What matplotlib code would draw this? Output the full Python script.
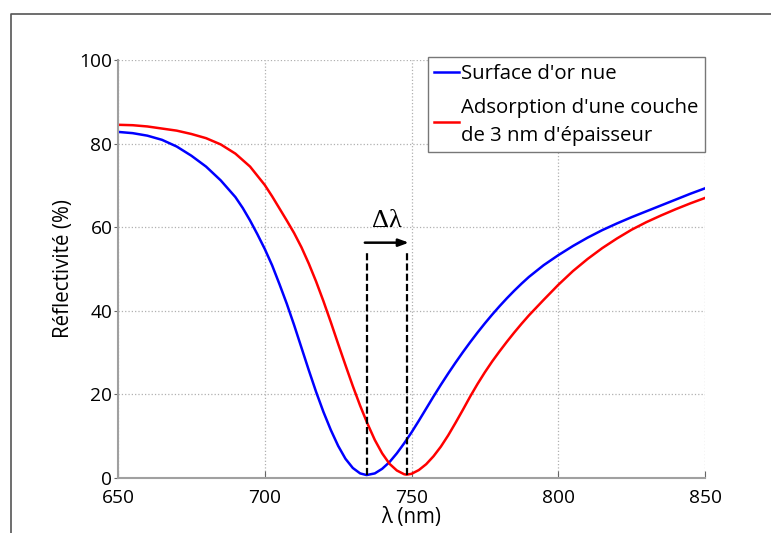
import numpy as np
import matplotlib
matplotlib.use("Agg")
import matplotlib.pyplot as plt
from matplotlib.lines import Line2D

# data (wavelength in nm, reflectivity in %)
wl_gold = [650, 655, 660, 665, 670, 675, 680, 685, 690, 692.5, 695, 697.5, 700,
           702.5, 705, 707.5, 710, 712.5, 715, 717.5, 720, 722.5, 725, 727.5, 730,
           732.5, 734.7, 737.5, 740, 742.5, 745, 747.5, 750, 752.5, 755, 757.5, 760,
           762.5, 765, 767.5, 770, 772.5, 775, 777.5, 780, 782.5, 785, 787.5, 790,
           795, 800, 805, 810, 815, 820, 825, 830, 835, 840, 845, 850]
r_gold = [82.8, 82.5, 81.9, 80.9, 79.3, 77.1, 74.5, 71.2, 67.2, 64.6, 61.6, 58.3, 54.8,
          50.9, 46.4, 41.7, 36.6, 31.2, 25.8, 20.6, 15.8, 11.5, 7.7, 4.6, 2.4,
          1.1, 0.7, 1.1, 2.2, 3.8, 5.9, 8.3, 10.9, 13.7, 16.6, 19.5, 22.3,
          25.0, 27.6, 30.1, 32.5, 34.8, 37.0, 39.1, 41.1, 43.0, 44.8, 46.5, 48.1,
          50.9, 53.3, 55.5, 57.5, 59.3, 60.9, 62.4, 63.8, 65.2, 66.6, 68.0, 69.3]

wl_layer = [650, 655, 660, 665, 670, 675, 680, 685, 690, 695, 700, 702.5, 705, 707.5,
            710, 712.5, 715, 717.5, 720, 722.5, 725, 727.5, 730, 732.5, 735, 737.5,
            740, 742.5, 745, 747.5, 748.3, 750, 752.5, 755, 757.5, 760, 762.5, 765,
            767.5, 770, 772.5, 775, 777.5, 780, 782.5, 785, 787.5, 790, 795, 800,
            805, 810, 815, 820, 825, 830, 835, 840, 845, 850]
r_layer = [84.5, 84.4, 84.1, 83.6, 83.1, 82.3, 81.3, 79.8, 77.6, 74.5, 70.1, 67.4, 64.5, 61.6,
           58.6, 55.2, 51.3, 47.0, 42.3, 37.3, 32.1, 27.0, 22.0, 17.3, 13.0, 9.1,
           5.9, 3.4, 1.8, 0.9, 0.8, 1.0, 1.9, 3.3, 5.2, 7.5, 10.2, 13.2,
           16.3, 19.5, 22.5, 25.3, 27.9, 30.3, 32.6, 34.8, 36.9, 38.9, 42.6, 46.2,
           49.5, 52.4, 55.0, 57.3, 59.4, 61.2, 62.8, 64.3, 65.7, 67.0]

label_gold = "Surface d'or nue"
label_layer = "Adsorption d'une couche\nde 3 nm d'épaisseur"
xticks = [650, 700, 750, 800, 850]
yticks = [0, 20, 40, 60, 80, 100]

plt.rcParams['font.family'] = ['Open Sans', 'DejaVu Sans']

fig = plt.figure(figsize=(7.71, 5.33), dpi=100)
ax = fig.add_axes([118 / 771, 55 / 533, 587 / 771, 418 / 533])

# window frame of the original screenshot
fig.add_artist(Line2D([11 / 771, 11 / 771, 1.0], [0.0, 1 - 14 / 533, 1 - 14 / 533],
                      transform=fig.transFigure, color='#555555', lw=1.2))

ax.plot(wl_gold, r_gold, color='#0000ff', lw=1.8, label=label_gold)
ax.plot(wl_layer, r_layer, color='#ff0000', lw=1.8, label=label_layer)

# shift of the resonance minimum
x1 = wl_gold[int(np.argmin(r_gold))]
x2 = wl_layer[int(np.argmin(r_layer))]
for xm, rm in [(x1, min(r_gold)), (x2, min(r_layer))]:
    ax.plot([xm, xm], [rm, 53.8], color='black', lw=1.6, dashes=(3.2, 1.4))
ax.annotate('', xy=(x2 + 0.8, 56.3), xytext=(x1 - 0.6, 56.3),
            arrowprops=dict(arrowstyle='-|>,head_length=0.6,head_width=0.22',
                            color='black', lw=1.8, shrinkA=0, shrinkB=0))
ax.text((x1 + x2) / 2, 61.5, 'Δλ', family='Liberation Serif', fontsize=19,
        ha='center', va='center')

ax.set_xlim(650, 850)
ax.set_ylim(0, 100)
ax.set_xticks(xticks)
ax.set_yticks(yticks)
ax.tick_params(axis='x', direction='in', length=5, pad=8, labelsize=13.8, color='#666666')
ax.tick_params(axis='y', direction='out', length=3, pad=1, labelsize=13.8, color='#666666')
for s in ['top', 'right']:
    ax.spines[s].set_visible(False)
for s in ['left', 'bottom']:
    ax.spines[s].set_color('#a0a0a0')
    ax.spines[s].set_linewidth(1.5)
ax.grid(True, linestyle=':', color='#b0b0b0', lw=0.9)
ax.set_axisbelow(True)

ax.set_xlabel('λ (nm)', fontsize=14.8, labelpad=0)
ax.set_ylabel('Réflectivité (%)', fontsize=14.8, labelpad=4)

leg = ax.legend(loc='upper right', bbox_to_anchor=(705 / 771, 1 - 57 / 533),
                bbox_transform=fig.transFigure, borderaxespad=0, fontsize=14.7,
                handlelength=1.2, handletextpad=0.1, borderpad=0.33,
                labelspacing=0.7, fancybox=False, framealpha=1)
leg.get_frame().set_edgecolor('#777777')
leg.get_frame().set_linewidth(1.0)
for t in leg.get_texts():
    t.set_linespacing(1.5)

fig.savefig('out.png', dpi=100)
